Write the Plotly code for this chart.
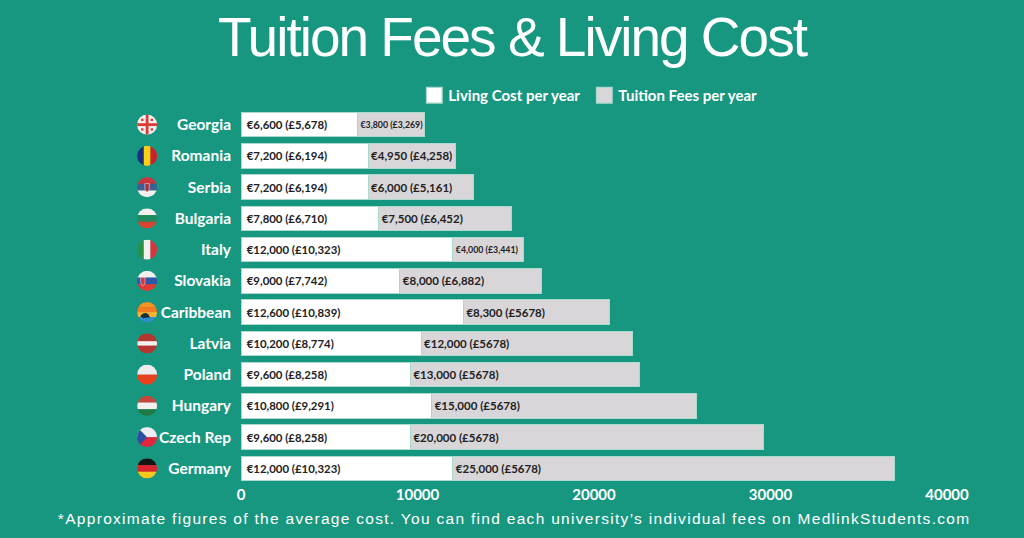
import base64
import plotly.graph_objects as go

countries = ["Georgia", "Romania", "Serbia", "Bulgaria", "Italy", "Slovakia", "Caribbean",
             "Latvia", "Poland", "Hungary", "Czech Rep", "Germany"]
living_cost = [6600, 7200, 7200, 7800, 12000, 9000, 12600, 10200, 9600, 10800, 9600, 12000]
tuition_fees = [3800, 4950, 6000, 7500, 4000, 8000, 8300, 12000, 13000, 15000, 20000, 25000]
living_labels = ["€6,600 (£5,678)", "€7,200 (£6,194)", "€7,200 (£6,194)", "€7,800 (£6,710)",
                 "€12,000 (£10,323)", "€9,000 (£7,742)", "€12,600 (£10,839)", "€10,200 (£8,774)",
                 "€9,600 (£8,258)", "€10,800 (£9,291)", "€9,600 (£8,258)", "€12,000 (£10,323)"]
tuition_labels = ["€3,800 (£3,269)", "€4,950 (£4,258)", "€6,000 (£5,161)", "€7,500 (£6,452)",
                  "€4,000 (£3,441)", "€8,000 (£6,882)", "€8,300 (£5678)", "€12,000 (£5678)",
                  "€13,000 (£5678)", "€15,000 (£5678)", "€20,000 (£5678)", "€25,000 (£5678)"]
tuition_label_sizes = [8.8, 11.5, 11.5, 11.5, 8.8, 11.5, 11.5, 11.5, 11.5, 11.5, 11.5, 11.5]

TEAL = "#189780"
GREY = "#d9d6d9"
INK = "#222222"

def hstripes(*cols):
    h = 20 / len(cols)
    return "".join(f'<rect x="0" y="{i*h}" width="20" height="{h+.2}" fill="{c}"/>' for i, c in enumerate(cols))

def vstripes(*cols):
    w = 20 / len(cols)
    return "".join(f'<rect x="{i*w}" y="0" width="{w+.2}" height="20" fill="{c}"/>' for i, c in enumerate(cols))

emblem = '<path d="M{x} 6.5h4.4v5q0 2.5-2.2 3.3-2.2-.8-2.2-3.3z" fill="{c}" stroke="#fff" stroke-width=".5"/>'
flag_art = {
    "Georgia": '<rect width="20" height="20" fill="#f4f0ee"/><rect x="8.6" width="2.8" height="20" fill="#dc3b34"/>'
               '<rect y="8.6" width="20" height="2.8" fill="#dc3b34"/>'
               '<g fill="#dc3b34"><rect x="4" y="4" width="2.4" height="2.4"/><rect x="13.6" y="4" width="2.4" height="2.4"/>'
               '<rect x="4" y="13.6" width="2.4" height="2.4"/><rect x="13.6" y="13.6" width="2.4" height="2.4"/></g>',
    "Romania": vstripes("#17307f", "#fbd116", "#ce2029"),
    "Serbia": hstripes("#c6363c", "#3b5f94", "#f4f0ee") + emblem.format(x=7.8, c="#a8323a"),
    "Bulgaria": hstripes("#f4f0ee", "#1f8a5d", "#d6452d"),
    "Italy": vstripes("#2a9148", "#f4f0ee", "#d8343d"),
    "Slovakia": hstripes("#f4f0ee", "#2b58a8", "#df3a35") + emblem.format(x=3.6, c="#d8343d"),
    "Caribbean": hstripes("#f7941e", "#f47b20", "#f9b233", "#2f8fd0")
                 + '<path d="M3 14q4-5 8-2l2 3-7 1z" fill="#17323c"/>',
    "Latvia": '<rect width="20" height="20" fill="#b5352f"/><rect y="7.8" width="20" height="4.4" fill="#f4f0ee"/>',
    "Poland": hstripes("#ececec", "#e8401f"),
    "Hungary": hstripes("#c8453a", "#f4f0ee", "#1f7a45"),
    "Czech Rep": hstripes("#ececf2", "#e0283c") + '<path d="M0 0L10 10L0 20z" fill="#2a4f9e"/>',
    "Germany": hstripes("#151515", "#d8262c", "#f4c81c"),
}

def flag_uri(name):
    svg = ('<svg xmlns="http://www.w3.org/2000/svg" width="80" height="80" viewBox="0 0 20 20">'
           '<defs><clipPath id="c"><circle cx="10" cy="10" r="10"/></clipPath></defs>'
           f'<g clip-path="url(#c)">{flag_art[name]}</g></svg>')
    return "data:image/svg+xml;base64," + base64.b64encode(svg.encode()).decode()

fig = go.Figure()
fig.add_bar(name="Living Cost per year", y=countries, x=living_cost, orientation="h",
            marker=dict(color="#ffffff", line=dict(color="#a9dacd", width=1)),
            text=["\u00a0" + t for t in living_labels], textposition="inside", insidetextanchor="start",
            constraintext="none", textangle=0,
            textfont=dict(family="Lato", size=11.4, color=INK, weight=700), hoverinfo="skip")
fig.add_bar(name="Tuition Fees per year", y=countries, x=tuition_fees, orientation="h",
            marker=dict(color=GREY, line=dict(color="#a9dacd", width=1)),
            text=tuition_labels, textposition="inside", insidetextanchor="start", constraintext="none",
            textangle=0, textfont=dict(family="Lato", size=tuition_label_sizes, color=INK, weight=700),
            hoverinfo="skip")

fig.update_layout(
    width=1024, height=538, autosize=False, barmode="stack", bargap=0.21,
    paper_bgcolor=TEAL, plot_bgcolor=TEAL,
    margin=dict(l=241, r=77, t=109, b=54),
    title=dict(text="Tuition Fees & Living Cost", x=0.5, xanchor="center", y=0.932, yanchor="middle",
               font=dict(family="Liberation Sans", size=55, color="#ffffff")),
    legend=dict(orientation="h", x=0.237, xanchor="left", y=0.992, yanchor="bottom", traceorder="normal",
                entrywidth=125, entrywidthmode="pixels",
                font=dict(family="Lato", size=15, color="#ffffff", weight=700), bgcolor="rgba(0,0,0,0)"),
    xaxis=dict(range=[0, 40000], dtick=10000, tickformat="d", showgrid=False, zeroline=False, ticks="",
               tickfont=dict(family="Lato", size=15, color="#ffffff", weight=700)),
    yaxis=dict(autorange="reversed", showgrid=False, zeroline=False, ticks="", ticklabelstandoff=9,
               tickfont=dict(family="Lato", size=15.5, color="#ffffff", weight=700)),
    images=[dict(source=flag_uri(c), xref="paper", yref="y", x=-0.133, y=c, sizex=20/706, sizey=0.66,
                 xanchor="center", yanchor="middle", sizing="contain", layer="above") for c in countries],
    annotations=[dict(text="*Approximate figures of the average cost. You can find each university’s individual fees on MedlinkStudents.com",
                      xref="paper", yref="paper", x=0.386, y=-0.091, xanchor="center", yanchor="middle",
                      showarrow=False, font=dict(family="Liberation Sans", size=15.5, color="#ffffff"))],
)

post = """
document.body.style.margin = '0';
document.body.style.background = '#189780';
document.querySelectorAll('.gtitle').forEach(t => t.style.letterSpacing = '-2px');
document.querySelectorAll('.annotation-text').forEach(t => t.style.letterSpacing = '1.3px');
document.querySelectorAll('.legend .legendbar path, .legend .legendpoints path').forEach(p =>
    p.setAttribute('transform', 'translate(26,0) scale(1.3)'));
document.querySelectorAll('.legend .scrollbox, .legend').forEach(g => {
    g.removeAttribute('clip-path'); g.style.clipPath = 'none';
});
"""
fig.write_html("out.html", post_script=post, config={"displayModeBar": False})
